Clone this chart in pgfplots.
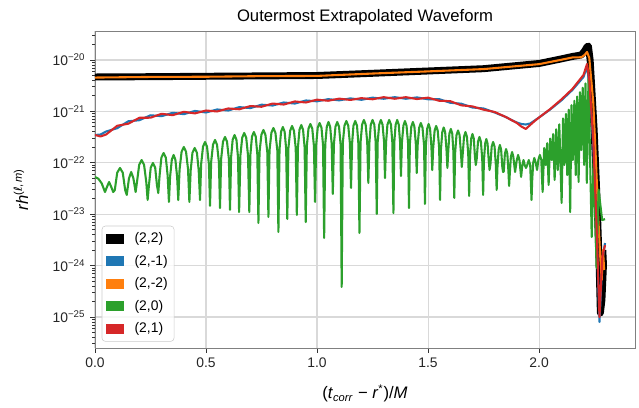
\documentclass[border=0pt]{standalone}
\usepackage{fontspec}
\setmainfont{Liberation Sans}
\newfontfamily\djv{DejaVu Sans}
\usepackage{pgfplots}
\pgfplotsset{compat=1.18}
\definecolor{tabblue}{HTML}{1F77B4}
\definecolor{taborange}{HTML}{FF7F0E}
\definecolor{tabgreen}{HTML}{2CA02C}
\definecolor{tabred}{HTML}{D62728}
\begin{document}
\begin{tikzpicture}
\path[use as bounding box] (-68.4pt,-42.48pt) rectangle (391.68pt,250.56pt);
\begin{axis}[
 scale only axis, width=388.8pt, height=228.24pt,
 xmin=0, xmax=2.432, ymode=log, ymin=2.49e-26, ymax=3.66e-20,
 xtick={0,0.5,1,1.5,2}, xticklabels={0.0,0.5,1.0,1.5,2.0},
 ytick={1e-25,1e-24,1e-23,1e-22,1e-21,1e-20},
 yticklabels={10\textsuperscript{−25},10\textsuperscript{−24},10\textsuperscript{−23},10\textsuperscript{−22},10\textsuperscript{−21},10\textsuperscript{−20}},
 minor ytick={3e-26,4e-26,5e-26,6e-26,7e-26,8e-26,9e-26,
   2e-25,3e-25,4e-25,5e-25,6e-25,7e-25,8e-25,9e-25,
   2e-24,3e-24,4e-24,5e-24,6e-24,7e-24,8e-24,9e-24,
   2e-23,3e-23,4e-23,5e-23,6e-23,7e-23,8e-23,9e-23,
   2e-22,3e-22,4e-22,5e-22,6e-22,7e-22,8e-22,9e-22,
   2e-21,3e-21,4e-21,5e-21,6e-21,7e-21,8e-21,9e-21,
   2e-20,3e-20},
 tick align=outside, tick pos=left,
 major tick length=3.5pt, minor tick length=2pt,
 grid=major, major grid style={line width=0.8pt, black!15},
 minor grid style={draw=none},
 axis line style={black!50, line width=0.6pt},
 tick style={black!80, line width=0.6pt},
 ticklabel style={font=\fontsize{10}{12}\selectfont, text=black!85},
 title={Outermost Extrapolated Waveform},
 every axis title shift=0pt,
 title style={at={(axis description cs:0.5,1.0294)}, anchor=base, font=\fontsize{12}{14}\selectfont},
 xlabel={(\textit{t}\textsubscript{\textit{corr}} − \textit{r}\textsuperscript{*})/\textit{M}},
 xlabel style={at={(axis description cs:0.5,-0.1608)}, anchor=base, font=\fontsize{12}{14}\selectfont},
 ylabel={\textit{rh}\textsuperscript{(\textit{\djv ℓ},\,\textit{m})}},
 ylabel style={at={(axis description cs:-0.124,0.5)}, anchor=base, font=\fontsize{12}{14}\selectfont},
 legend style={at={(axis description cs:0.0124,0.0199)}, anchor=south west,
   draw=black!20, rounded corners=2.5pt, fill=white, fill opacity=0.8, text opacity=1,
   font=\fontsize{10}{12}\selectfont, inner xsep=3pt, inner ysep=3.4pt, row sep=4.4pt,
   cells={anchor=west}, nodes={inner sep=1.5pt}},
 legend image code/.code={\fill[#1, sharp corners, draw=none, fill opacity=1] (0pt,-3.6pt) rectangle (13pt,3.6pt); \path[draw=none, fill=none] (0pt,0pt) rectangle (19pt,0.1pt);},
]
% (2,2)
\addplot[forget plot, black, line width=5pt, line join=round] coordinates {
(0,4.67e-21) (0.25,4.73e-21) (0.5,4.82e-21) (0.75,4.90e-21) (1.0,4.99e-21) (1.25,5.51e-21) (1.5,6.11e-21) (1.75,6.77e-21) (2.0,8.55e-21) (2.1,1.05e-20) (2.15,1.17e-20) (2.19,1.25e-20) (2.205,1.50e-20) (2.215,1.79e-20) (2.222,1.87e-20) (2.230,1.0e-20) (2.248,4.35e-22) (2.261,1.89e-23) (2.270,1.29e-24) (2.276,1.20e-25) (2.283,2.14e-25) (2.290,1.03e-24) (2.287,2.01e-24)
};
% (2,-1)
\addplot[forget plot, tabblue, line width=1.5pt, line join=round] coordinates {
(0,3.47e-22) (0.025,3.55e-22) (0.05,4.06e-22) (0.1,4.71e-22) (0.15,6.42e-22) (0.2,6.74e-22) (0.25,8.40e-22) (0.3,8.07e-22) (0.35,9.39e-22) (0.4,8.82e-22) (0.45,1.02e-21) (0.5,9.52e-22) (0.55,1.09e-21) (0.6,1.04e-21) (0.65,1.21e-21) (0.7,1.16e-21) (0.75,1.35e-21) (0.8,1.30e-21) (0.85,1.49e-21) (0.9,1.42e-21) (0.95,1.63e-21) (1.0,1.57e-21) (1.05,1.73e-21) (1.1,1.64e-21) (1.15,1.79e-21) (1.2,1.68e-21) (1.25,1.85e-21) (1.3,1.76e-21) (1.35,1.89e-21) (1.4,1.76e-21) (1.45,1.87e-21) (1.5,1.72e-21) (1.55,1.73e-21) (1.6,1.47e-21) (1.65,1.41e-21) (1.7,1.19e-21) (1.75,1.14e-21) (1.8,9.52e-22) (1.85,7.78e-22) (1.88,6.65e-22) (1.9,6.08e-22) (1.92,5.69e-22) (1.94,5.56e-22) (1.96,5.82e-22) (1.98,6.65e-22) (2.0,7.61e-22) (2.05,1.09e-21) (2.1,1.63e-21) (2.15,2.61e-21) (2.2,4.67e-21) (2.216,7.31e-21) (2.226,3.57e-21) (2.244,2.22e-22) (2.258,6.2e-24) (2.272,8.0e-26) (2.285,1.3e-24) (2.297,2.75e-24)
};
% (2,-2)
\addplot[forget plot, taborange, line width=1.5pt, line join=round] coordinates {
(0,4.55e-21) (0.25,4.68e-21) (0.5,4.72e-21) (0.75,4.85e-21) (1.0,4.90e-21) (1.25,5.45e-21) (1.5,6.00e-21) (1.75,6.65e-21) (2.0,8.30e-21) (2.1,1.01e-20) (2.15,1.12e-20) (2.19,1.13e-20) (2.205,1.25e-20) (2.216,1.43e-20) (2.226,1.1e-20) (2.244,1.5e-21) (2.256,1.13e-22) (2.266,9.64e-24) (2.275,1.61e-24) (2.282,5.25e-25) (2.288,2.01e-24) (2.293,8.21e-25)
};
% (2,0)
\addplot[forget plot, tabgreen, line width=1.5pt, line join=round] coordinates {
(0,5.30e-23) (0.015,4.9e-23) (0.030,4.0e-23) (0.045,2.70e-23)
(0.054,3.4e-23) (0.0635,4.23e-23) (0.073,3.4e-23) (0.082,2.70e-23)
(0.089,2.93e-23) (0.100,6.42e-23) (0.1125,7.93e-23) (0.125,6.42e-23) (0.136,2.93e-23) (0.143,2.37e-23)
(0.153,4.97e-23) (0.163,6.62e-23) (0.173,4.97e-23) (0.183,2.70e-23)
(0.189,4.18e-23) (0.199,9.15e-23) (0.210,1.13e-22) (0.221,9.15e-23) (0.231,4.18e-23) (0.237,1.89e-23)
(0.243,3.67e-23) (0.251,8.03e-23) (0.261,9.91e-23) (0.271,8.03e-23) (0.279,3.67e-23) (0.285,2.58e-23)
(0.291,5.74e-23) (0.299,1.26e-22) (0.309,1.55e-22) (0.319,1.26e-22) (0.327,5.74e-23) (0.333,1.73e-23)
(0.338,5.25e-23) (0.346,1.15e-22) (0.354,1.42e-22) (0.362,1.15e-22) (0.370,5.25e-23) (0.375,1.89e-23)
(0.381,7.51e-23) (0.390,1.64e-22) (0.400,2.03e-22) (0.410,1.64e-22) (0.419,7.51e-23) (0.425,1.73e-23)
(0.431,7.18e-23) (0.439,1.57e-22) (0.449,1.94e-22) (0.459,1.57e-22) (0.467,7.18e-23) (0.473,1.89e-23)
(0.478,9.4e-23) (0.4865,2.06e-22) (0.4955,2.54e-22) (0.5045,2.06e-22) (0.513,9.4e-23) (0.518,1.45e-23)
(0.523,1.03e-22) (0.5315,2.25e-22) (0.5405,2.78e-22) (0.5495,2.25e-22) (0.558,1.03e-22) (0.563,1.32e-23)
(0.568,1.18e-22) (0.5765,2.58e-22) (0.5855,3.18e-22) (0.5945,2.58e-22) (0.603,1.18e-22) (0.608,1.21e-23)
(0.613,1.28e-22) (0.620,2.81e-22) (0.6285,3.47e-22) (0.637,2.81e-22) (0.644,1.28e-22) (0.649,1.10e-23)
(0.655,1.41e-22) (0.663,3.08e-22) (0.672,3.80e-22) (0.681,3.08e-22) (0.689,1.41e-22) (0.695,1.10e-23)
(0.700,1.47e-22) (0.707,3.22e-22) (0.7155,3.97e-22) (0.724,3.22e-22) (0.731,1.47e-22) (0.736,6.75e-24)
(0.741,1.61e-22) (0.7495,3.52e-22) (0.7585,4.35e-22) (0.7675,3.52e-22) (0.776,1.61e-22) (0.781,8.83e-24)
(0.786,1.76e-22) (0.7945,3.85e-22) (0.8035,4.75e-22) (0.8125,3.85e-22) (0.821,1.76e-22) (0.826,4.51e-24)
(0.831,1.84e-22) (0.838,4.03e-22) (0.846,4.97e-22) (0.854,4.03e-22) (0.861,1.84e-22) (0.866,8.07e-24)
(0.871,1.92e-22) (0.879,4.21e-22) (0.8875,5.20e-22) (0.896,4.21e-22) (0.904,1.92e-22) (0.909,9.64e-24)
(0.914,2.01e-22) (0.921,4.40e-22) (0.929,5.43e-22) (0.937,4.40e-22) (0.944,2.01e-22) (0.949,7.05e-24)
(0.954,2.11e-22) (0.9615,4.61e-22) (0.970,5.69e-22) (0.9785,4.61e-22) (0.986,2.11e-22) (0.991,1.73e-23)
(0.996,2.20e-22) (1.003,4.81e-22) (1.0115,5.94e-22) (1.020,4.81e-22) (1.027,2.20e-22) (1.032,3.44e-24)
(1.037,2.30e-22) (1.044,5.04e-22) (1.0515,6.22e-22) (1.059,5.04e-22) (1.066,2.30e-22) (1.071,2.47e-23)
(1.076,2.30e-22) (1.083,5.04e-22) (1.091,6.22e-22) (1.099,5.04e-22) (1.106,2.30e-22) (1.111,3.84e-25)
(1.116,2.41e-22) (1.1235,5.27e-22) (1.132,6.50e-22) (1.1405,5.27e-22) (1.148,2.41e-22) (1.153,3.24e-23)
(1.158,2.41e-22) (1.164,5.27e-22) (1.172,6.50e-22) (1.180,5.27e-22) (1.186,2.41e-22) (1.191,4.31e-24)
(1.196,2.52e-22) (1.203,5.52e-22) (1.211,6.81e-22) (1.219,5.52e-22) (1.226,2.52e-22) (1.231,4.04e-23)
(1.236,2.52e-22) (1.242,5.52e-22) (1.250,6.81e-22) (1.258,5.52e-22) (1.264,2.52e-22) (1.269,1.01e-23)
(1.273,2.52e-22) (1.280,5.52e-22) (1.2875,6.81e-22) (1.295,5.52e-22) (1.302,2.52e-22) (1.306,5.06e-23)
(1.311,2.52e-22) (1.317,5.52e-22) (1.325,6.81e-22) (1.333,5.52e-22) (1.339,2.52e-22) (1.344,1.05e-23)
(1.348,2.52e-22) (1.354,5.52e-22) (1.361,6.81e-22) (1.368,5.52e-22) (1.374,2.52e-22) (1.378,5.54e-23)
(1.382,2.41e-22) (1.389,5.27e-22) (1.396,6.50e-22) (1.403,5.27e-22) (1.410,2.41e-22) (1.414,1.32e-23)
(1.418,2.30e-22) (1.4245,5.04e-22) (1.4315,6.22e-22) (1.4385,5.04e-22) (1.445,2.30e-22) (1.449,6.34e-23)
(1.453,2.20e-22) (1.460,4.81e-22) (1.4675,5.94e-22) (1.475,4.81e-22) (1.482,2.20e-22) (1.486,1.58e-23)
(1.490,2.11e-22) (1.496,4.61e-22) (1.5025,5.69e-22) (1.509,4.61e-22) (1.515,2.11e-22) (1.519,7.24e-23)
(1.523,1.92e-22) (1.5295,4.21e-22) (1.5365,5.20e-22) (1.5435,4.21e-22) (1.550,1.92e-22) (1.554,1.89e-23)
(1.558,1.80e-22) (1.564,3.94e-22) (1.5705,4.86e-22) (1.577,3.94e-22) (1.583,1.80e-22) (1.587,7.93e-23)
(1.591,1.68e-22) (1.596,3.69e-22) (1.6025,4.55e-22) (1.609,3.69e-22) (1.614,1.68e-22) (1.618,2.07e-23)
(1.622,1.57e-22) (1.628,3.44e-22) (1.635,4.25e-22) (1.642,3.44e-22) (1.648,1.57e-22) (1.652,8.28e-23)
(1.656,1.47e-22) (1.662,3.22e-22) (1.6685,3.97e-22) (1.675,3.22e-22) (1.681,1.47e-22) (1.685,2.26e-23)
(1.689,1.34e-22) (1.694,2.94e-22) (1.700,3.63e-22) (1.706,2.94e-22) (1.711,1.34e-22) (1.715,9.06e-23)
(1.719,1.18e-22) (1.725,2.58e-22) (1.7315,3.18e-22) (1.738,2.58e-22) (1.744,1.18e-22) (1.748,2.37e-23)
(1.7515,1.07e-22) (1.757,2.35e-22) (1.7625,2.90e-22) (1.768,2.35e-22) (1.7735,1.07e-22) (1.777,7.24e-23)
(1.781,9.4e-23) (1.7865,2.06e-22) (1.793,2.54e-22) (1.7995,2.06e-22) (1.805,9.4e-23) (1.809,2.96e-23)
(1.8125,8.2e-23) (1.818,1.80e-22) (1.8235,2.22e-22) (1.829,1.80e-22) (1.8345,8.2e-23) (1.838,6.62e-23)
(1.841,6.8e-23) (1.846,1.50e-22) (1.8515,1.85e-22) (1.857,1.50e-22) (1.862,6.8e-23) (1.865,3.54e-23)
(1.868,6.0e-23) (1.873,1.31e-22) (1.8785,1.62e-22) (1.884,1.31e-22) (1.889,8.5e-23) (1.892,6.62e-23)
(1.899,1.1e-22) (1.9055,1.42e-22) (1.912,1.1e-22) (1.919,5.30e-23)
(1.9245,9.0e-23) (1.930,1.13e-22) (1.9355,9.0e-23) (1.941,7.93e-23)
(1.947,9.15e-23) (1.9535,1.13e-22) (1.960,9.15e-23) (1.963,4.18e-23) (1.966,1.89e-23)
(1.969,4.6e-23) (1.9735,1.0e-22) (1.9785,1.24e-22) (1.985,1.0e-22) (1.991,7.24e-23)
(1.997,1.15e-22) (2.0035,1.42e-22) (2.010,1.15e-22) (2.013,5.25e-23) (2.016,2.70e-23)
(2.023,1.94e-22) (2.030,9.06e-23) (2.0365,2.40e-22) (2.043,3.70e-23) (2.050,2.96e-22) (2.057,1.13e-22) (2.0635,3.63e-22) (2.070,4.63e-23) (2.077,4.49e-22) (2.084,7.24e-23) (2.091,5.6e-22) (2.1015,1.65e-23) (2.108,7.28e-22) (2.114,9.06e-23) (2.121,8.9e-22) (2.127,5.79e-23) (2.1335,1.08e-21) (2.140,1.10e-23) (2.146,1.32e-21) (2.152,1.13e-22) (2.159,1.61e-21) (2.165,5.79e-23) (2.1715,1.95e-21) (2.178,4.23e-23) (2.184,2.37e-21) (2.190,1.77e-22) (2.1965,2.88e-21) (2.203,9.06e-23) (2.209,3.49e-21) (2.215,4.04e-23) (2.2225,4.27e-21)
(2.237,3.60e-24) (2.246,1.30e-22) (2.259,8.97e-25) (2.268,3.0e-23) (2.284,7.7e-24) (2.297,8.0e-24)
};
% (2,1)
\addplot[forget plot, tabred, line width=1.5pt, line join=round] coordinates {
(0,3.47e-22) (0.025,3.25e-22) (0.05,3.55e-22) (0.1,5.25e-22) (0.15,5.76e-22) (0.2,7.51e-22) (0.25,7.54e-22) (0.3,8.98e-22) (0.35,8.44e-22) (0.4,9.82e-22) (0.45,9.14e-22) (0.5,1.04e-21) (0.55,9.96e-22) (0.6,1.14e-21) (0.65,1.10e-21) (0.7,1.27e-21) (0.75,1.23e-21) (0.8,1.42e-21) (0.85,1.36e-21) (0.9,1.56e-21) (0.95,1.49e-21) (1.0,1.69e-21) (1.05,1.61e-21) (1.1,1.77e-21) (1.15,1.67e-21) (1.2,1.81e-21) (1.25,1.72e-21) (1.3,1.89e-21) (1.35,1.76e-21) (1.4,1.89e-21) (1.45,1.74e-21) (1.5,1.85e-21) (1.55,1.61e-21) (1.6,1.58e-21) (1.65,1.31e-21) (1.7,1.25e-21) (1.75,1.08e-21) (1.8,9.73e-22) (1.85,7.78e-22) (1.9,5.95e-22) (1.92,5.08e-22) (1.94,4.55e-22) (1.96,5.44e-22) (1.98,6.50e-22) (2.0,7.61e-22) (2.05,1.11e-21) (2.1,1.70e-21) (2.15,2.73e-21) (2.2,5.11e-21) (2.216,8.36e-21) (2.226,4.08e-21) (2.244,2.78e-22) (2.258,7.71e-24) (2.272,1.0e-25) (2.285,1.5e-24) (2.297,2.5e-24)
};
\addlegendimage{fill=black}\addlegendentry{(2,2)}
\addlegendimage{fill=tabblue}\addlegendentry{(2,-1)}
\addlegendimage{fill=taborange}\addlegendentry{(2,-2)}
\addlegendimage{fill=tabgreen}\addlegendentry{(2,0)}
\addlegendimage{fill=tabred}\addlegendentry{(2,1)}
\end{axis}
\end{tikzpicture}
\end{document}
